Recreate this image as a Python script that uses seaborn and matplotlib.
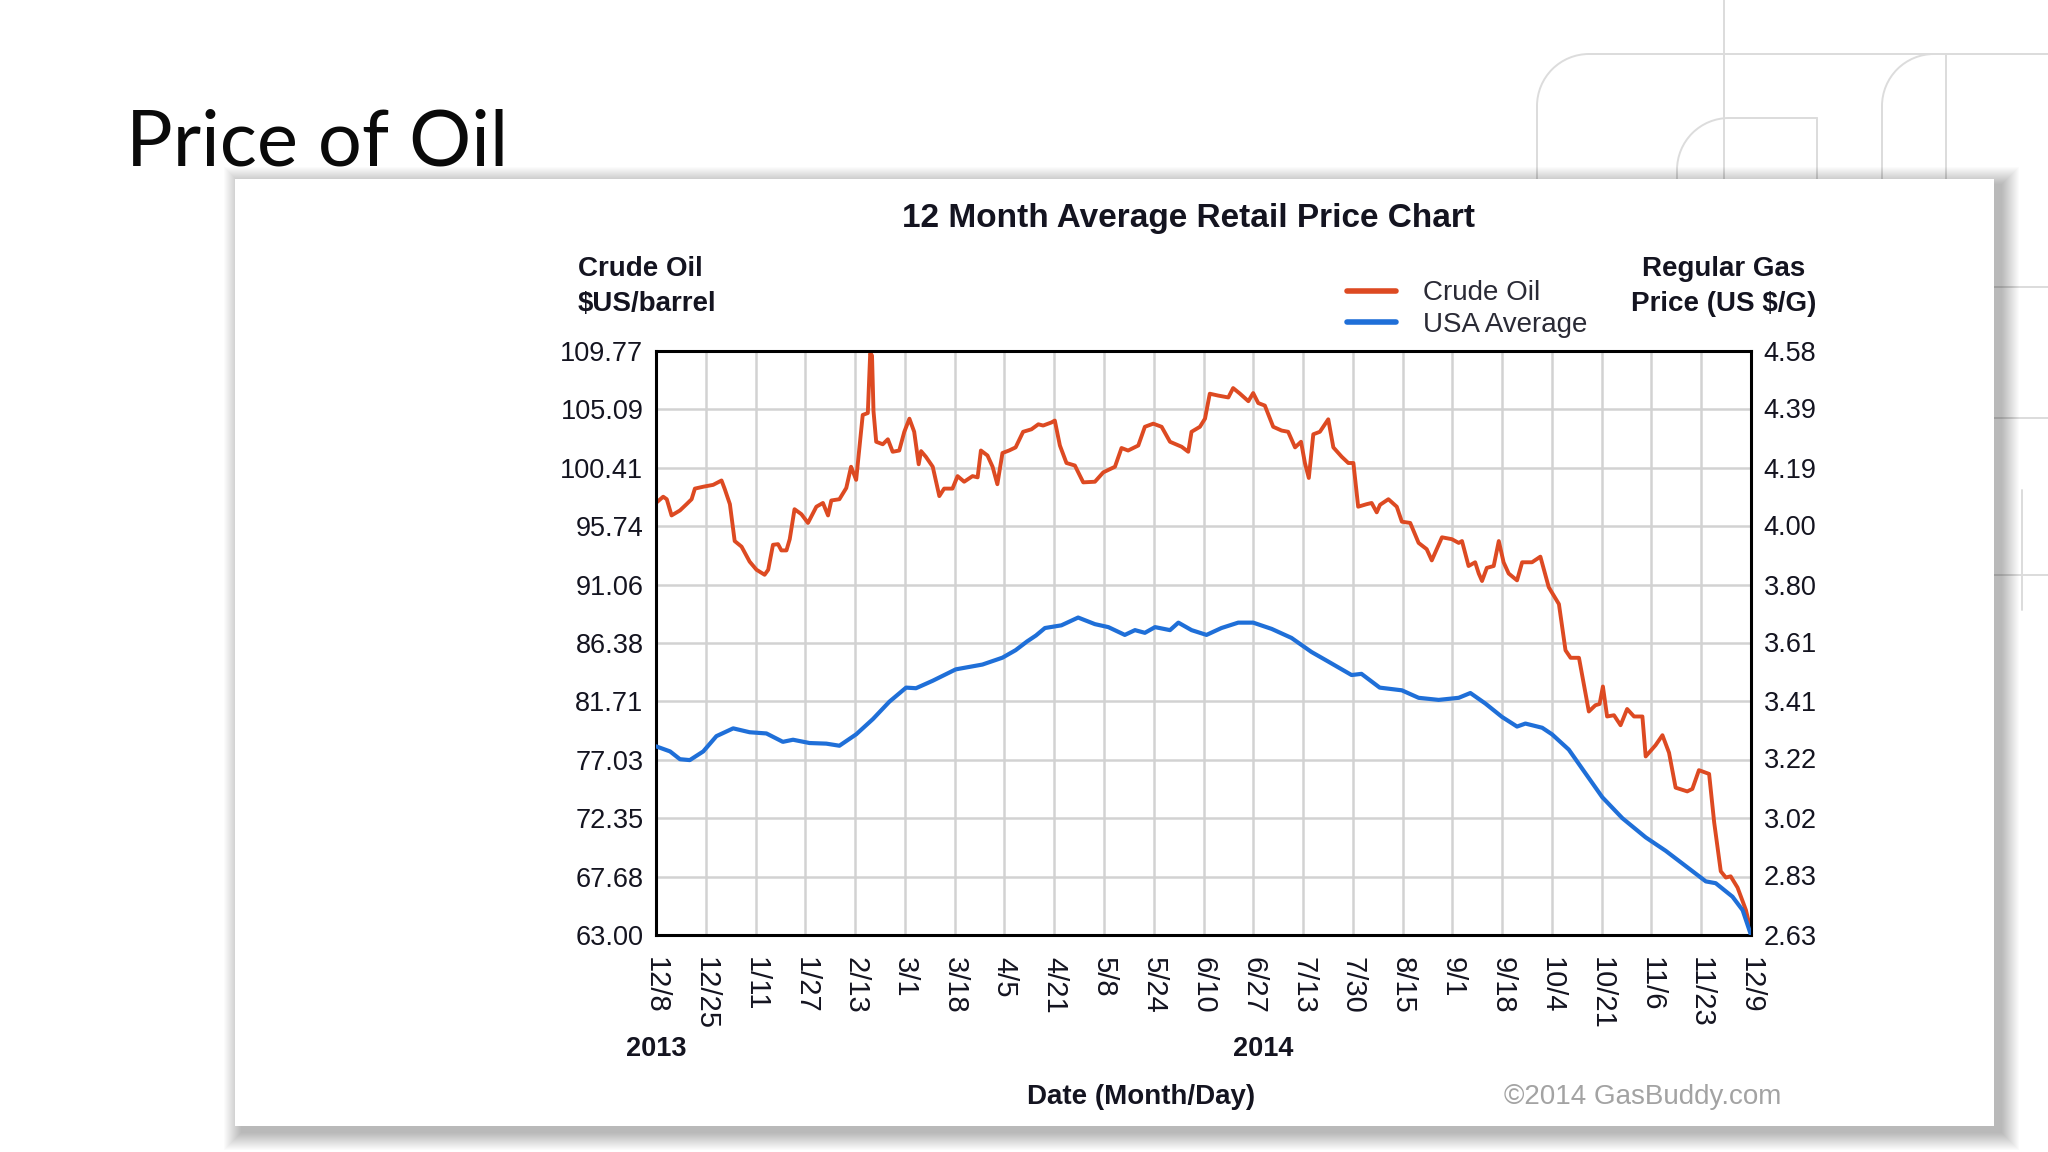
import numpy as np
import matplotlib
matplotlib.use("Agg")
import matplotlib.pyplot as plt
import seaborn as sns
from matplotlib.patches import Rectangle, Arc
from matplotlib.lines import Line2D
from matplotlib.transforms import Affine2D

# Dados (x = dias desde 8/12/2013)
crude_days = [
    0, 2.4, 3.6, 5.2, 8.0, 10.2, 11.9, 13.0, 15.8, 19.1, 21.9, 23.0, 24.7, 26.3, 28.6, 31.3,
    33.6, 36.3, 37.5, 39.1, 40.8, 41.9, 43.6, 44.7, 46.3, 48.6, 50.8, 53.6, 55.8, 57.5, 58.6,
    61.3, 63.6, 65.2, 66.9, 69.1, 70.8, 71.6, 72.2, 72.7, 73.6, 75.8, 77.5, 79.1, 81.3, 83.0,
    84.7, 86.3, 87.8, 88.6, 90.2, 92.5, 94.7, 96.3, 99.1, 100.8, 103.0, 105.8, 107.5, 108.6,
    110.8, 112.5, 114.1, 115.8, 118.0, 120.2, 122.7, 125.5, 127.8, 129.4, 132.2, 133.3, 135.0,
    137.2, 140.0, 142.8, 146.7, 149.5, 153.4, 155.6, 157.8, 161.2, 163.4, 166.2, 169.0, 171.8,
    175.7, 177.9, 179.0, 181.8, 183.5, 185.1, 187.9, 191.3, 192.9, 195.2, 198.0, 199.6, 201.3,
    203.5, 206.3, 209.1, 211.3, 213.6, 215.6, 216.9, 218.2, 219.7, 221.9, 224.7, 226.4, 229.2,
    231.4, 233.1, 234.7, 237.5, 239.2, 240.9, 242.0, 244.8, 247.6, 249.3, 252.1, 254.9, 257.6,
    259.3, 262.7, 266.0, 268.3, 269.4, 271.6, 273.8, 275.0, 276.1, 277.7, 280.0, 281.7, 283.3,
    285.0, 287.8, 289.5, 292.8, 295.6, 298.4, 301.8, 304.0, 305.7, 308.5, 311.8, 314.0, 315.4,
    316.5, 317.9, 320.2, 322.4, 324.6, 326.9, 329.7, 330.8, 334.1, 336.4, 338.6, 340.8, 344.7,
    346.4, 348.6, 352.0, 353.7, 355.9, 357.6, 359.2, 361.5, 364.3, 366.0,
]
crude_price = [
    97.6, 98.1, 97.9, 96.6, 97.0, 97.5, 97.9, 98.75, 98.9, 99.05, 99.4, 98.7, 97.5, 94.55, 94.1, 92.9,
    92.25, 91.85, 92.25, 94.25, 94.3, 93.8, 93.8, 94.7, 97.1, 96.7, 96.0, 97.3, 97.6, 96.6, 97.8,
    97.9, 98.8, 100.5, 99.45, 104.65, 104.8, 109.6, 109.4, 104.95, 102.5, 102.3, 102.7, 101.7, 101.8, 103.3,
    104.35, 103.3, 100.7, 101.75, 101.3, 100.5, 98.15, 98.75, 98.75, 99.75, 99.3, 99.75, 99.65, 101.8,
    101.4, 100.5, 99.1, 101.6, 101.8, 102.05, 103.3, 103.5, 103.9, 103.8, 104.05, 104.2, 102.2,
    100.8, 100.6, 99.25, 99.3, 100.05, 100.5, 102.0, 101.8, 102.2, 103.7, 103.95, 103.7, 102.5,
    102.1, 101.7, 103.3, 103.7, 104.35, 106.35, 106.2, 106.05, 106.8, 106.35, 105.75, 106.4, 105.6,
    105.4, 103.7, 103.4, 103.3, 102.05, 102.5, 100.8, 99.6, 103.1, 103.3, 104.3, 102.05, 101.3,
    100.8, 100.8, 97.3, 97.5, 97.6, 96.85, 97.45, 97.9, 97.3, 96.1, 96.0, 94.4, 93.9,
    93.0, 94.85, 94.7, 94.4, 94.55, 92.55, 92.85, 91.95, 91.35, 92.4, 92.55, 94.55, 92.85,
    91.95, 91.4, 92.85, 92.85, 93.3, 90.85, 89.5, 85.8, 85.2, 85.2, 80.9, 81.4, 81.5,
    82.9, 80.5, 80.6, 79.8, 81.1, 80.5, 80.5, 77.3, 78.2, 79.0, 77.6, 74.8, 74.5,
    74.7, 76.2, 75.9, 72.0, 68.1, 67.6, 67.7, 66.8, 65.0, 63.3,
]

gas_days = [
    0, 4.7, 8.0, 11.3, 15.8, 20.2, 25.8, 31.3, 36.9, 42.4, 45.8, 51.3, 56.9, 61.3, 66.9, 72.5,
    78.0, 83.6, 86.9, 92.5, 100.2, 109.1, 115.8, 120.2, 124.0, 127.0, 130.0, 135.5, 141.1, 146.7,
    151.2, 156.7, 160.1, 163.4, 166.8, 171.8, 174.6, 179.0, 184.0, 189.0, 194.6, 199.6, 205.8,
    212.4, 219.1, 224.7, 232.5, 235.8, 241.9, 249.3, 254.9, 261.6, 268.3, 272.2, 277.2, 282.8,
    287.8, 290.6, 296.2, 299.5, 305.1, 309.6, 316.3, 323.0, 330.8, 337.5, 344.2, 350.9, 354.2,
    359.8, 363.2, 366.0,
]
gas_price = [
    3.26, 3.243, 3.217, 3.214, 3.243, 3.294, 3.32, 3.307, 3.303, 3.275, 3.282, 3.271, 3.269, 3.262, 3.30, 3.351,
    3.409, 3.456, 3.454, 3.479, 3.517, 3.533, 3.556, 3.581, 3.61, 3.63, 3.655, 3.664, 3.69, 3.668,
    3.658, 3.632, 3.648, 3.639, 3.658, 3.648, 3.673, 3.648, 3.632, 3.655, 3.673, 3.673, 3.652,
    3.622, 3.575, 3.543, 3.498, 3.502, 3.456, 3.447, 3.422, 3.415, 3.422, 3.438, 3.403, 3.358,
    3.326, 3.336, 3.322, 3.30, 3.249, 3.185, 3.09, 3.02, 2.956, 2.911, 2.86, 2.809, 2.803,
    2.758, 2.713, 2.63,
]

date_labels = ["12/8", "12/25", "1/11", "1/27", "2/13", "3/1", "3/18", "4/5", "4/21", "5/8",
               "5/24", "6/10", "6/27", "7/13", "7/30", "8/15", "9/1", "9/18", "10/4", "10/21",
               "11/6", "11/23", "12/9"]
crude_ticks = [63.00, 67.68, 72.35, 77.03, 81.71, 86.38, 91.06, 95.74, 100.41, 105.09, 109.77]
gas_ticks = [2.63, 2.83, 3.02, 3.22, 3.41, 3.61, 3.80, 4.00, 4.19, 4.39, 4.58]
year_labels = ["2013", "2014"]
year_days = [0, 203]

RED = "#dd4a22"
BLUE = "#1f6fd8"
INK = "#141420"
GRID = "#d2d2d2"

sns.set_style("white")
plt.rcParams['font.family'] = ['Liberation Sans', 'DejaVu Sans']

W, H = 2048, 1152
fig = plt.figure(figsize=(W / 100, H / 100), dpi=100)
fig.patch.set_facecolor("white")

# transformação em pixels (origem no canto superior esquerdo)
pix = Affine2D().scale(1 / W, -1 / H).translate(0, 1) + fig.transFigure


def fx(x):
    return x / W


def fy(y):
    return 1 - y / H


# linhas decorativas do slide
deco = dict(color="#dcdcdc", lw=1.4, transform=pix, zorder=0)
r = 52
segs = [
    ([1724, 1724], [0, 179]),
    ([1537 + r, 2048], [54, 54]), ([1537, 1537], [54 + r, 179]),
    ([1677 + r, 1817], [118, 118]), ([1817, 1817], [118, 179]), ([1677, 1677], [118 + r, 179]),
    ([1882, 1882], [54 + r, 179]), ([1946, 1946], [54, 179]),
    ([1994, 2048], [287, 287]), ([1994, 2048], [418, 418]), ([1994, 2048], [575, 575]),
    ([2022, 2022], [490, 610]),
]
for xs, ys in segs:
    fig.add_artist(Line2D(xs, ys, **deco))
for cx, cy in [(1537 + r, 54 + r), (1677 + r, 118 + r), (1882 + r, 54 + r)]:
    fig.add_artist(Arc((cx, cy), 2 * r, 2 * r, theta1=180, theta2=270, **deco))

# cartão com sombra
cx0, cy0, cx1, cy1 = 235, 179, 1994, 1126
for k in range(18, 0, -1):
    fig.add_artist(Rectangle((cx0 - k + 7, cy0 - k + 6), (cx1 - cx0) + 2 * k, (cy1 - cy0) + 2 * k,
                             transform=pix, color="black", alpha=0.014, lw=0, zorder=1))
fig.add_artist(Rectangle((cx0, cy0), cx1 - cx0, cy1 - cy0, transform=pix,
                         facecolor="white", lw=0, zorder=2))

# título do slide
fig.text(fx(126), fy(165), "Price of Oil", family=["Lato", "DejaVu Sans"], fontweight="normal",
         fontsize=56, color="#0a0a0a", va="baseline", ha="left", zorder=5)

# gráfico
ax = fig.add_axes([fx(656), fy(935), (1751 - 656) / W, (935 - 351) / H], zorder=3)
ax.set_facecolor("white")
sns.lineplot(x=crude_days, y=crude_price, ax=ax, color=RED, linewidth=2.8, label="Crude Oil", legend=False)
ax.set_xlim(0, 366)
ax.set_ylim(crude_ticks[0], crude_ticks[-1])
tick_pos = np.linspace(0, 366, len(date_labels))
ax.set_xticks(tick_pos)
ax.set_xticklabels(date_labels, rotation=-90, ha="center", va="top")
ax.set_yticks(crude_ticks)
ax.set_yticklabels([f"{v:.2f}" for v in crude_ticks])
ax.tick_params(axis="x", length=0, pad=16, labelsize=21, colors=INK)
ax.tick_params(axis="y", length=0, pad=9, labelsize=19.5, colors=INK)
ax.grid(True, color=GRID, lw=1.8)
ax.set_xlabel("")
ax.set_ylabel("")
for s in ax.spines.values():
    s.set_color("black")
    s.set_linewidth(2.2)

ax2 = ax.twinx()
sns.lineplot(x=gas_days, y=gas_price, ax=ax2, color=BLUE, linewidth=3.0, label="USA Average", legend=False)
ax2.set_ylim(gas_ticks[0], gas_ticks[-1])
ax2.set_yticks(gas_ticks)
ax2.set_yticklabels([f"{v:.2f}" for v in gas_ticks])
ax2.tick_params(axis="y", length=0, pad=9, labelsize=19.5, colors=INK)
ax2.set_ylabel("")
ax2.grid(False)
for s in ax2.spines.values():
    s.set_visible(False)

# legenda
handles = ax.get_lines()[:1] + ax2.get_lines()[:1]
leg = fig.legend(handles, ["Crude Oil", "USA Average"], loc="center left",
                 bbox_to_anchor=(fx(1347), fy(309)), frameon=False, fontsize=20,
                 handlelength=1.75, handletextpad=1.0, labelspacing=0.2, borderpad=0,
                 borderaxespad=0, labelcolor="#2a2a35")
for ln in leg.get_lines():
    ln.set_linewidth(4)
leg.set_zorder(6)

# textos do gráfico
bold = dict(fontsize=20, fontweight="bold", color=INK, va="center", zorder=6)
fig.text(fx(1189), fy(219), "12 Month Average Retail Price Chart", fontsize=24, fontweight="bold",
         color=INK, ha="center", va="center", zorder=6)
fig.text(fx(578), fy(269), "Crude Oil", ha="left", **bold)
fig.text(fx(578), fy(304), "$US/barrel", ha="left", **bold)
fig.text(fx(1724), fy(269), "Regular Gas", ha="center", **bold)
fig.text(fx(1724), fy(304), "Price (US $/G)", ha="center", **bold)
for d, lab in zip(year_days, year_labels):
    ax.text(d, -0.196, lab, transform=ax.get_xaxis_transform(), fontsize=19.5, fontweight="bold",
            color=INK, ha="center", va="center")
fig.text(fx(1141), fy(1097), "Date (Month/Day)", ha="center", **bold)
fig.text(fx(1643), fy(1097), "\u00a92014 GasBuddy.com", fontsize=20, color="#a3a3a3",
         ha="center", va="center", zorder=6)

fig.savefig("out.png", dpi=100)
